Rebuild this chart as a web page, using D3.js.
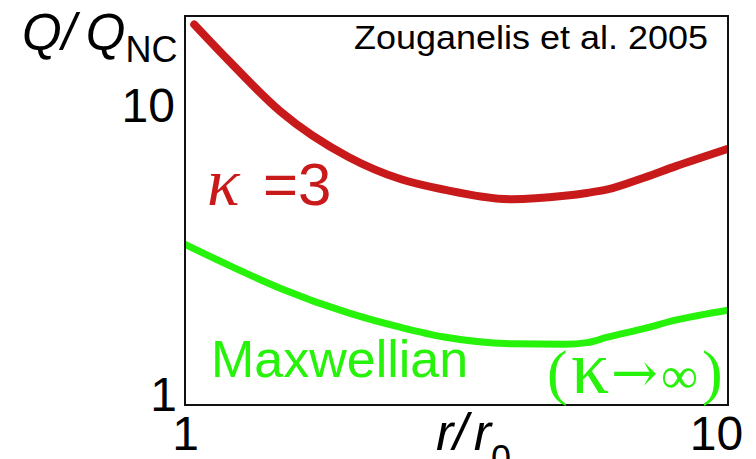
<!DOCTYPE html>
<html>
<head>
<meta charset="utf-8">
<script src="https://cdn.jsdelivr.net/npm/d3@7"></script>
<style>
  html, body { margin: 0; padding: 0; background: #fff; }
  svg { display: block; }
</style>
</head>
<body>
<svg id="chart" width="756" height="459"></svg>
<script>
// Heating rate ratio Q/Q_NC versus heliocentric distance r/r0 (log-log)
const radius = [1, 1.2, 1.5, 2, 2.5, 3, 4, 5, 5.5, 6, 7, 8, 10];
const kappaRadius = [1.04, 1.2, 1.5, 2, 2.5, 3, 4, 5, 5.5, 6, 7, 8, 10];
const kappa3 = [18.7, 14.1, 9.33, 6.50, 5.44, 5.01, 4.64, 4.77, 4.88, 5.02, 5.51, 6.03, 6.94];
const maxwellian = [3.24, 2.75, 2.28, 1.875, 1.67, 1.547, 1.467, 1.462, 1.48, 1.545, 1.655, 1.77, 1.918];
const xTicks = [1, 10];
const yTicks = [1, 10];

const RED = "#c81a1a";
const GREEN = "#26f20a";
const SANS = "Liberation Sans, Arial, sans-serif";
const SERIF = "Liberation Serif, Times New Roman, serif";

const svg = d3.select("#chart");
const plot = { left: 185, top: 16, right: 728, bottom: 405 };

const x = d3.scaleLog().domain([1, 10]).range([plot.left, plot.right]);
const y = d3.scaleLog().domain([0.9, 20]).range([plot.bottom, plot.top]);

svg.append("defs").append("clipPath").attr("id", "plotClip")
  .append("rect")
  .attr("x", plot.left).attr("y", plot.top)
  .attr("width", plot.right - plot.left).attr("height", plot.bottom - plot.top);

// Curves
const line = d3.line()
  .x(d => x(d[0]))
  .y(d => y(d[1]))
  .curve(d3.curveMonotoneX);

const g = svg.append("g").attr("clip-path", "url(#plotClip)");
g.append("path")
  .datum(d3.zip(kappaRadius, kappa3))
  .attr("d", line)
  .attr("fill", "none")
  .attr("stroke", RED)
  .attr("stroke-width", 8)
  .attr("stroke-linecap", "round")
  .attr("stroke-linejoin", "round");
g.append("path")
  .datum(d3.zip(radius, maxwellian))
  .attr("d", line)
  .attr("fill", "none")
  .attr("stroke", GREEN)
  .attr("stroke-width", 7)
  .attr("stroke-linecap", "round")
  .attr("stroke-linejoin", "round");

// Frame
svg.append("rect")
  .attr("x", plot.left).attr("y", plot.top)
  .attr("width", plot.right - plot.left).attr("height", plot.bottom - plot.top)
  .attr("fill", "none").attr("stroke", "#111").attr("stroke-width", 2);

// Axes: labels only, no tick marks
const xAxis = svg.append("g")
  .attr("transform", `translate(0,${plot.bottom})`)
  .call(d3.axisBottom(x).tickValues(xTicks).tickFormat(d3.format("d")).tickSize(0).tickPadding(11));
const yAxis = svg.append("g")
  .attr("transform", `translate(${plot.left},0)`)
  .call(d3.axisLeft(y).tickValues(yTicks).tickFormat(d3.format("d")).tickSize(0).tickPadding(10));

[xAxis, yAxis].forEach(ax => {
  ax.select(".domain").remove();
  ax.attr("font-family", SANS).attr("font-size", 48);
  ax.selectAll("text").attr("fill", "#000");
});
xAxis.selectAll(".tick text").filter(d => d === 10).attr("dx", -12);
yAxis.selectAll(".tick text").attr("dy", "0.38em");
yAxis.selectAll(".tick text").filter(d => d === 1).attr("dx", 2);

// Axis titles
const yTitle = svg.append("text")
  .attr("x", 22).attr("y", 50)
  .attr("font-family", SANS)
  .attr("font-size", 51).attr("font-style", "italic");
yTitle.append("tspan").text("Q/");
yTitle.append("tspan").attr("dx", 10).text("Q");
yTitle.append("tspan").attr("font-style", "normal").attr("font-size", 36).attr("dy", 12).text("NC");

const xTitle = svg.append("text")
  .attr("x", 436).attr("y", 450)
  .attr("font-family", SANS)
  .attr("font-size", 52).attr("font-style", "italic");
xTitle.append("tspan").text("r/");
xTitle.append("tspan").attr("dx", 6).text("r");
xTitle.append("tspan").attr("font-style", "normal").attr("font-size", 36).attr("dy", 21).text("0");

// Citation
svg.append("text")
  .attr("x", 354).attr("y", 49)
  .attr("font-family", SANS)
  .attr("font-size", 33)
  .attr("textLength", 354).attr("lengthAdjust", "spacingAndGlyphs")
  .text("Zouganelis et al. 2005");

// Series labels
const kLabel = svg.append("text")
  .attr("x", 207).attr("y", 205)
  .attr("fill", RED);
kLabel.append("tspan")
  .attr("font-family", SERIF)
  .attr("font-style", "italic").attr("font-size", 68)
  .text("κ");
kLabel.append("tspan").attr("font-family", SANS).attr("font-size", 60).attr("x", 263).text("=3");

svg.append("text")
  .attr("x", 211).attr("y", 377)
  .attr("font-family", SANS)
  .attr("font-size", 52).attr("fill", GREEN)
  .text("Maxwellian");

const inf = svg.append("g")
  .attr("font-family", SERIF)
  .attr("fill", GREEN);
inf.append("text").attr("x", 547).attr("y", 393).attr("font-size", 62).text("(");
inf.append("text").attr("x", 571).attr("y", 393).attr("font-size", 76).text("κ");
inf.append("text").attr("x", 611).attr("y", 392)
  .attr("font-family", "DejaVu Serif, serif")
  .attr("font-size", 56).text("→");
inf.append("text").attr("x", 661).attr("y", 393)
  .attr("font-size", 52).text("∞");
inf.append("text").attr("x", 702).attr("y", 393).attr("font-size", 62).text(")");
</script>
</body>
</html>
